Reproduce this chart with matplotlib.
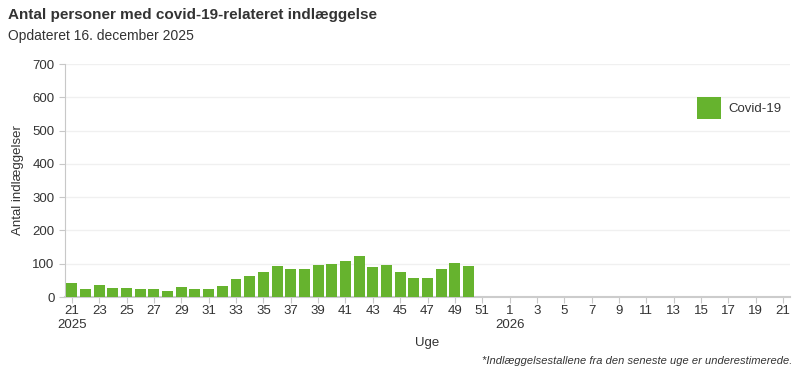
import matplotlib.pyplot as plt

plt.rcParams['font.family'] = ['Liberation Sans', 'DejaVu Sans']

# weeks 21-52 of 2025, then 1-21 of 2026
weeks_2025 = list(range(21, 53))
weeks_2026 = list(range(1, 22))
# admissions per week, 2025 weeks 21..50
admissions = [43, 24, 37, 27, 27, 24, 24, 18, 30, 24,
              24, 33, 53, 62, 74, 92, 83, 83, 95, 98,
              107, 122, 89, 95, 74, 56, 56, 83, 101, 92]

green = "#66b32e"
grey_txt = "#333333"

weeks = weeks_2025 + weeks_2026
pos = list(range(len(weeks)))

fig = plt.figure(figsize=(8.0, 3.75), dpi=100)
ax = fig.add_axes([65 / 800, 1 - 297 / 375, (790 - 65) / 800, (297 - 64) / 375])

ax.bar(pos[:len(admissions)], admissions, width=0.8, color=green, label="Covid-19", zorder=3)

ax.set_xlim(-0.5, len(weeks) - 0.5)
ax.set_ylim(0, 700)
ax.set_yticks(range(0, 701, 100))
ax.grid(axis='y', color='#f0f0f0', linewidth=1, zorder=0)

ticks = [p for p, w in zip(pos, weeks) if w % 2 == 1]
labels = []
for p in ticks:
    w = weeks[p]
    if p == 0:
        labels.append("%d\n2025" % w)
    elif p == len(weeks_2025):
        labels.append("%d\n2026" % w)
    else:
        labels.append(str(w))
ax.set_xticks(ticks)
ax.set_xticklabels(labels, ha='center', multialignment='center')

for s in ['top', 'right']:
    ax.spines[s].set_visible(False)
ax.spines['left'].set_color('#c8c8c8')
ax.spines['bottom'].set_color('#cccccc')
ax.spines['bottom'].set_linewidth(1.5)
ax.tick_params(axis='both', colors='#c8c8c8', labelcolor=grey_txt, labelsize=9.5, length=4)
ax.tick_params(axis='x', pad=2)

ax.set_ylabel("Antal indlæggelser", fontsize=9.5, color=grey_txt, labelpad=6)
ax.set_xlabel("Uge", fontsize=9.5, color=grey_txt, labelpad=4)

leg = ax.legend(loc='upper left', bbox_to_anchor=(0.855, 0.91), frameon=False,
                fontsize=9.5, handlelength=1.8, handleheight=2.2, handletextpad=0.6)
for t in leg.get_texts():
    t.set_color(grey_txt)

fig.text(8 / 800, 1 - 15 / 375, "Antal personer med covid-19-relateret indlæggelse",
         fontsize=11, fontweight='bold', color=grey_txt, va='center')
fig.text(8 / 800, 1 - 36 / 375, "Opdateret 16. december 2025",
         fontsize=10, color=grey_txt, va='center')
fig.text(792 / 800, 1 - 361 / 375, "*Indlæggelsestallene fra den seneste uge er underestimerede.",
         fontsize=8, style='italic', color=grey_txt, va='center', ha='right')

fig.savefig("out.png", dpi=100)
